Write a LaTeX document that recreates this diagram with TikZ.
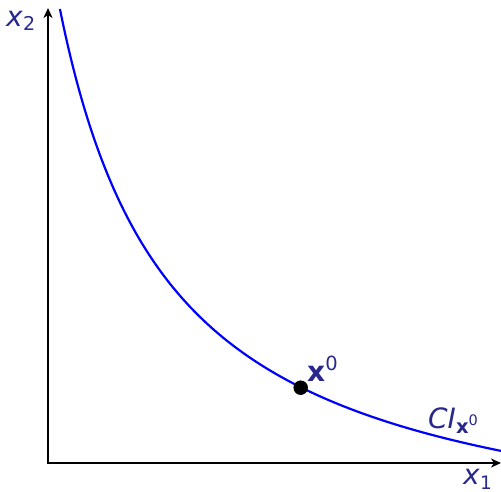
\documentclass[tikz,border=0pt]{standalone}
\usepackage{fontspec}
\setmainfont{DejaVu Sans}
\usetikzlibrary{arrows.meta}
\definecolor{labelblue}{RGB}{40,40,140}
\begin{document}
\begin{tikzpicture}[x=1pt,y=-1pt,
  axis/.style={line width=2.3pt, black, -{Stealth[length=10pt,width=9pt,inset=3pt]}},
  curveline/.style={line width=2.2pt, color={rgb,255:red,0;green,0;blue,255}},
  lbl/.style={inner sep=0pt, anchor=base west, text=labelblue, font=\fontsize{28}{28}\selectfont},
  dotnode/.style={circle, fill=black, minimum size=14.5pt, inner sep=0pt}]
\useasboundingbox (0,0) rectangle (501,492);
\coordinate (O) at (48,463);
\coordinate (xtip) at (501,463);
\coordinate (ytip) at (48,8);
% curve
\draw[curveline] plot[domain=11.9:453, samples=150, smooth] ({48+\x}, {563-620/(\x/100+1)});
% axes
\draw[axis] ([xshift=-1.15pt]O) -- (xtip);
\draw[axis] ([yshift=1.15pt]O) -- (ytip);
% point
\node[dotnode] (x0) at (300.7,387.7) {};
% labels
\node[lbl] (lx2) at (6,27) {\textit{x}\raisebox{-3.5pt}{\fontsize{19}{19}\selectfont 2}};
\node[lbl] (lx1) at (463,484) {\textit{x}\raisebox{-5pt}{\fontsize{18.5}{18.5}\selectfont 1}};
\node[lbl] (lx0) at (307,381) {\textbf{x}\raisebox{11pt}{\fontsize{19.5}{19.5}\selectfont 0}};
\node[lbl] (lci) at (428,428) {\textit{CI}\raisebox{-5pt}{\fontsize{19.5}{19.5}\selectfont\bfseries x\raisebox{7.5pt}{\fontsize{14.5}{14.5}\selectfont\mdseries 0}}};
\end{tikzpicture}
\end{document}
